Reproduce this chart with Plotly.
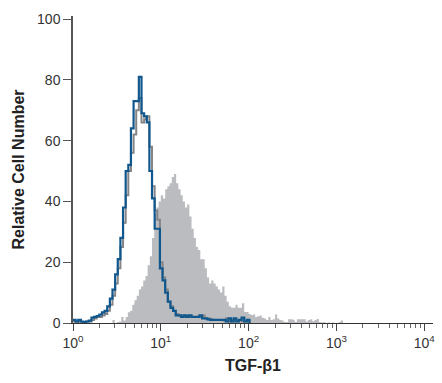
import plotly.graph_objects as go

# ---------------- data (log10 bin starts, bin width in decades, counts) ----------------
fill_start = 0.40
fill_width = 0.025
fill_counts = [0, 0, 1, 0, 0.3, 0.5, 2, 0.8, 2, 3.5,
               4, 6, 7.5, 9, 11, 12, 14, 15.5, 19, 22,
               28, 36, 38, 40, 42, 41, 44, 45, 46, 48,
               49, 46, 44, 42, 40, 38, 39, 35, 31, 28,
               25, 24, 21, 21, 18, 15, 13, 14, 13, 12,
               11, 10, 12, 9, 7, 5.5, 5, 5, 6, 5,
               5, 6.5, 3.6, 3.6, 3, 2.6, 2.8, 2, 2.2, 2.5,
               1.7, 1.5, 1, 2, 1, 1.2, 2.8, 1.5, 1, 0.8,
               0.3, 0.3, 1.2, 1.2, 1.1, 0.3, 1.2, 1.2, 1.2, 1.2,
               0.5, 1.0, 1.2, 0.6, 1.0, 1.3, 0.3, 0.2, 0.3, 0,
               0.2, 0, 0.2, 0, 0, 0.3, 0.8, 0]

line_start = 0.0
line_width = 0.03
blue_counts = [1, 0.5, 1, 0.5, 0.3, 0.5, 0.8, 1.8, 2, 2.3,
               2.8, 3.5, 4, 5.5, 8, 11, 16, 21, 28, 38,
               50, 52, 64, 73, 73, 81, 69, 68, 66, 50,
               41, 31, 31, 18, 14, 10, 7, 5, 4, 2.5,
               2.5, 2, 2.5, 2, 2.5, 2, 2, 2, 2.5, 1.5,
               1.5, 1.2, 1, 1, 1, 1, 1, 1, 0.5, 1.5,
               0.5, 1.5, 0.5, 1, 1.8, 0.5, 1]
gray_counts = [0.5, 0.3, 0.5, 0.3, 0.3, 0.5, 0.5, 1, 1.5, 2,
               2, 2.5, 3, 4, 6, 9, 13, 18, 25, 33,
               42, 50, 56, 62, 70, 74, 66, 67, 68, 58,
               45, 37, 34, 20, 15, 11, 7, 5.5, 4, 3,
               2.5, 2.5, 2, 2.5, 2, 2, 2, 2, 2, 2.5,
               1.5, 1.5, 1.2, 1, 1, 1, 1, 0.8, 1.5, 0.5,
               1, 0.5, 1, 1, 0.5, 0.5, 0.5]

x_major = [1, 10, 100, 1000, 10000]
x_major_text = ["10<sup>0</sup>", "10<sup>1</sup>", "10<sup>2</sup>", "10<sup>3</sup>", "10<sup>4</sup>"]
y_ticks = [0, 20, 40, 60, 80, 100]


def step_xy(start, width, counts):
    xs = [10 ** (start + i * width) for i in range(len(counts) + 1)]
    ys = list(counts) + [0]
    return xs, ys


fx, fy = step_xy(fill_start, fill_width, fill_counts)
bx, by = step_xy(line_start, line_width, blue_counts)
gx, gy = step_xy(line_start, line_width, gray_counts)

fig = go.Figure()
fig.add_trace(go.Scatter(x=fx, y=fy, mode="lines", line=dict(shape="hv", width=0, color="#bbbcbf"),
                         fill="tozeroy", fillcolor="#bbbcbf", hoverinfo="skip"))
fig.add_trace(go.Scatter(x=gx, y=gy, mode="lines", line=dict(shape="hv", width=2, color="#858587"),
                         hoverinfo="skip"))
fig.add_trace(go.Scatter(x=bx, y=by, mode="lines", line=dict(shape="hv", width=2.2, color="#10578e"),
                         hoverinfo="skip"))

minor_vals = [d * 10 ** k for k in range(0, 4) for d in range(2, 10)]

FONT = "Liberation Sans, Arial, sans-serif"
tickfont = dict(family=FONT, size=14, color="#333333")

fig.update_layout(
    width=442, height=383,
    margin=dict(l=73, r=7, t=16, b=60),
    paper_bgcolor="white", plot_bgcolor="white",
    showlegend=False,
    xaxis=dict(type="log", range=[0, 4.1], tickmode="array", tickvals=x_major, ticktext=x_major_text,
               ticks="outside", ticklen=7, tickwidth=1, tickcolor="#444444",
               showline=True, linecolor="#333333", linewidth=1.2, showgrid=False, zeroline=False,
               tickfont=tickfont,
               minor=dict(tickmode="array", tickvals=minor_vals, ticks="outside", ticklen=4,
                          tickwidth=1, tickcolor="#666666", showgrid=False),
               title=dict(text="TGF-β1", font=dict(family=FONT, size=16, color="#222222", weight="bold"),
                          standoff=9)),
    yaxis=dict(range=[0, 101], tickmode="array", tickvals=y_ticks,
               ticks="outside", ticklen=8, tickwidth=1, tickcolor="#555555",
               showline=True, linecolor="#555555", linewidth=1.5, showgrid=False, zeroline=False,
               tickfont=tickfont,
               title=dict(text="Relative Cell Number",
                          font=dict(family=FONT, size=16, color="#222222", weight="bold"), standoff=8)),
)

fig.write_html("out.html")
